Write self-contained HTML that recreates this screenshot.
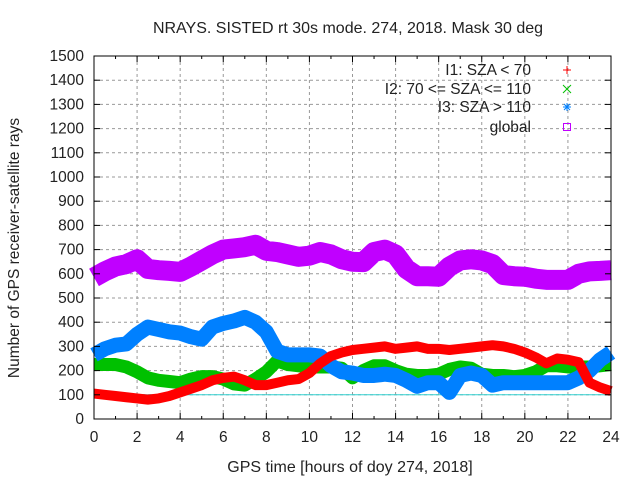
<!DOCTYPE html>
<html><head><meta charset="utf-8"><style>
body{margin:0;background:#fff}
svg text{font-family:"Liberation Sans",sans-serif;font-size:15.5px;fill:#222}
</style></head><body>
<svg id="chart" width="640" height="480" viewBox="0 0 640 480" xmlns="http://www.w3.org/2000/svg">
<text x="348" y="33" text-anchor="middle" style="font-size:16px">NRAYS. SISTED rt 30s mode. 274, 2018. Mask 30 deg</text>
<text x="350" y="472" text-anchor="middle" style="font-size:16px">GPS time [hours of doy 274, 2018]</text>
<text transform="translate(19,248) rotate(-90)" text-anchor="middle">Number of GPS receiver-satellite rays</text>
<g id="grid"></g><g id="series"></g><g id="axes"></g><g id="legend"></g>
</svg>
<script>
const hours = [0,0.5,1,1.5,2,2.5,3,3.5,4,4.5,5,5.5,6,6.5,7,7.5,8,8.5,9,9.5,10,10.5,11,11.5,12,12.5,13,13.5,14,14.5,15,15.5,16,16.5,17,17.5,18,18.5,19,19.5,20,20.5,21,21.5,22,22.5,23,23.5,24];
const redVals = [105,100,95,90,85,80,85,95,110,125,140,160,170,175,160,140,140,150,160,165,190,230,260,275,285,290,295,300,290,295,300,290,290,285,290,295,300,305,300,290,275,255,230,250,245,235,150,130,115];
const greenVals = [225,225,225,215,195,170,160,155,150,165,175,175,165,145,140,165,195,240,225,220,215,215,215,210,170,200,220,220,200,185,180,180,185,205,215,210,185,180,180,175,180,195,220,220,215,215,215,220,225];
const blueVals = [265,290,305,310,350,380,370,360,355,340,330,380,395,405,420,400,360,280,265,265,265,260,220,195,190,180,180,185,180,160,135,150,150,110,180,190,180,140,150,150,150,150,150,150,150,170,200,245,275];
const purpleVals = [585,610,630,640,660,620,615,612,608,630,655,680,700,705,710,720,695,690,680,670,675,690,680,660,650,648,690,700,680,620,590,590,588,630,655,660,655,640,595,590,588,580,575,575,575,600,610,612,615];
const xTicks = [0,2,4,6,8,10,12,14,16,18,20,22,24];
const yTicks = [0,100,200,300,400,500,600,700,800,900,1000,1100,1200,1300,1400,1500];
const legendLabels = ["I1: SZA < 70","I2: 70 <= SZA <= 110","I3: SZA > 110","global"];

const L=94,R=611,T=56,B=419, NS="http://www.w3.org/2000/svg";
const xs=t=>L+(R-L)*t/24, ys=v=>B-(B-T)*v/1500;
function mk(tag,attrs,parent){const e=document.createElementNS(NS,tag);for(const k in attrs)e.setAttribute(k,attrs[k]);document.getElementById(parent).appendChild(e);return e;}

xTicks.forEach(t=>{ if(t>0&&t<24){
  const g=mk('line',{x1:xs(t),x2:xs(t),y1:T,y2:B,stroke:'#999','stroke-dasharray':'3,3'},'grid');
  
  }
  const lb=mk('text',{x:xs(t),y:B+23,'text-anchor':'middle'},'axes'); lb.textContent=t;
  
  
});
for(let h=1;h<24;h++){mk('line',{x1:xs(h),x2:xs(h),y1:B,y2:B-(h%2?3:6),stroke:'#000'},'axes');mk('line',{x1:xs(h),x2:xs(h),y1:T,y2:T+(h%2?3:6),stroke:'#000'},'axes');}
yTicks.forEach(v=>{ if(v>0&&v<1500){
  const g=mk('line',{x1:L,x2:R,y1:ys(v),y2:ys(v),stroke:'#999','stroke-dasharray':'3,3'},'grid');
  
  }
  mk('line',{x1:L,x2:L+6,y1:ys(v),y2:ys(v),stroke:'#000'},'axes');mk('line',{x1:R,x2:R-6,y1:ys(v),y2:ys(v),stroke:'#000'},'axes');
  const lb=mk('text',{x:L-10,y:ys(v)+5,'text-anchor':'end'},'axes'); lb.textContent=v;
  
  
});
const ref=mk('line',{x1:L,x2:R,y1:ys(100),y2:ys(100),stroke:'#30d0d0','stroke-width':1},'grid');


const fr=mk('rect',{x:L,y:T,width:R-L,height:B-T,fill:'none',stroke:'#000'},'axes');



const series=[[purpleVals,'#c000ff',20,'series-global'],[redVals,'#ff0000',10,'series-i1'],[greenVals,'#00c000',13,'series-i2'],[blueVals,'#0080ff',15,'series-i3']];
const order=[0,2,3,1];
order.forEach(i=>{const [vals,c,w,n]=series[i];
  const p=mk('polyline',{points:hours.map((t,j)=>xs(t)+','+ys(vals[j])).join(' '),fill:'none',stroke:c,'stroke-width':w,'stroke-linejoin':'round','stroke-linecap':'butt'},'series');
  
  
});

const lc=['#ff0000','#00c000','#0080ff','#c000ff'], ly=[70,89,107,127];
legendLabels.forEach((s,i)=>{
  const t=mk('text',{x:531,y:ly[i]+5,'text-anchor':'end'},'legend'); t.textContent=s;
  
  
  const x=567,y=ly[i],c=lc[i];
  if(i==0){mk('path',{d:`M${x-4} ${y}h8M${x} ${y-4}v8`,stroke:c},'legend');}
  else if(i==1){mk('path',{d:`M${x-4} ${y-4}l8 8M${x-4} ${y+4}l8 -8`,stroke:c},'legend');}
  else if(i==2){mk('path',{d:`M${x-4} ${y}h8M${x} ${y-4}v8M${x-3} ${y-3}l6 6M${x-3} ${y+3}l6 -6`,stroke:c},'legend');}
  else {mk('rect',{x:x-3.5,y:y-3.5,width:7,height:7,fill:'none',stroke:c},'legend');}
});
</script>
</body></html>
